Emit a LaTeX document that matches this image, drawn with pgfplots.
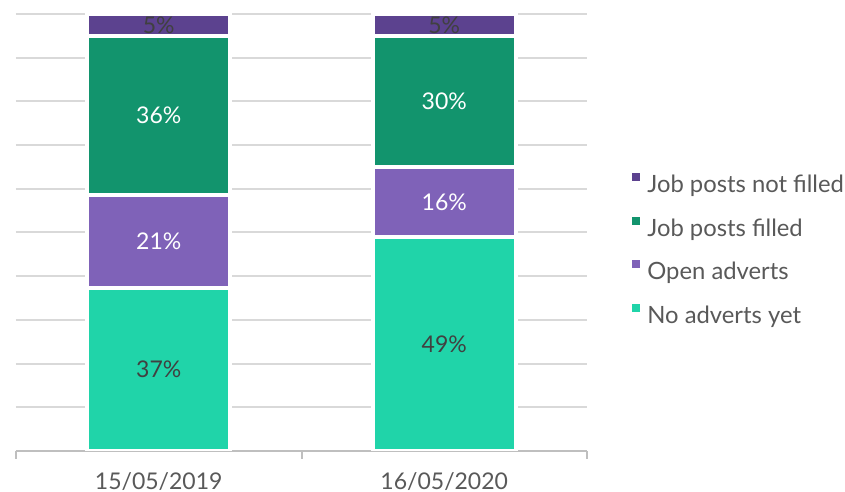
\documentclass[border=0pt]{standalone}
\usepackage{fontspec}
\setmainfont{Lato}
\usepackage{pgfplots}
\pgfplotsset{compat=1.18}

\definecolor{notfilled}{HTML}{5C428F}
\definecolor{filled}{HTML}{12946D}
\definecolor{openadv}{HTML}{7F62B8}
\definecolor{noadv}{HTML}{20D4A9}
\definecolor{gridgrey}{HTML}{D9D9D9}
\definecolor{axisgrey}{HTML}{BFBFBF}
\definecolor{labelgrey}{HTML}{595959}
\definecolor{valgrey}{HTML}{404040}

% 1px of the reference = 0.5pt here
\pgfplotsset{
  common/.style={
    at={(8pt,20.5pt)}, anchor=south west,
    scale only axis, width=285.5pt, height=218.5pt,
    xmin=-0.5, xmax=1.5, ymin=0, ymax=100,
    enlarge x limits=false, enlarge y limits=false,
  },
}

\begin{document}
\fontsize{11.5}{14}\selectfont
\begin{tikzpicture}
\useasboundingbox (0,0) rectangle (422.5pt,246pt);
\begin{axis}[
  common,
  ybar stacked, bar width=71.5pt,
  axis y line*=left, axis x line*=bottom,
  y axis line style={draw=none},
  x axis line style={axisgrey, line width=1pt},
  ytick={10,20,...,100}, yticklabels={}, ytick style={draw=none},
  ymajorgrids, grid style={gridgrey, line width=1pt},
  xtick={0,1}, xticklabels={15/05/2019, 16/05/2020},
  major tick length=0pt,
  xticklabel style={anchor=base, yshift=-19.5pt, inner sep=0pt, text=labelgrey},
  extra x ticks={-0.5,0.5,1.5}, extra x tick labels={},
  extra x tick style={major tick length=4pt, tick align=outside, grid=none,
    tick style={axisgrey, line width=1pt}},
  reverse legend,
  legend cell align=left,
  legend style={at={(1.0788,0.6362)}, anchor=north west, draw=none, fill=none,
    inner sep=0pt, row sep=9.5pt, column sep=3.5pt,
    font=\fontsize{11.9}{14}\selectfont,
    nodes={inner sep=0pt, text height=9pt, text depth=2.5pt, text=labelgrey}},
  legend image code/.code={\fill[#1,draw=none] (0pt,2.5pt) rectangle (4pt,6.5pt);},
]
\addplot[fill=noadv, draw=white, line width=2pt] coordinates {(0,37.3) (1,49)};
\addplot[fill=openadv, draw=white, line width=2pt] coordinates {(0,21.2) (1,16)};
\addplot[fill=filled, draw=white, line width=2pt] coordinates {(0,36.5) (1,30)};
\addplot[fill=notfilled, draw=white, line width=2pt] coordinates {(0,5.0) (1,5)};
\legend{No adverts yet, Open adverts, Job posts filled, Job posts not filled}
\end{axis}
\begin{axis}[common, hide axis]
\addplot[draw=none, mark=none, nodes near coords, point meta=explicit symbolic,
  nodes near coords style={anchor=center, text=white}]
  coordinates {(0,47.9)[21\%] (0,76.75)[36\%] (1,57)[16\%] (1,80)[30\%]};
\addplot[draw=none, mark=none, nodes near coords, point meta=explicit symbolic,
  nodes near coords style={anchor=center, text=valgrey}]
  coordinates {(0,18.65)[37\%] (0,97.5)[5\%] (1,24.5)[49\%] (1,97.5)[5\%]};
\end{axis}
\end{tikzpicture}
\end{document}
